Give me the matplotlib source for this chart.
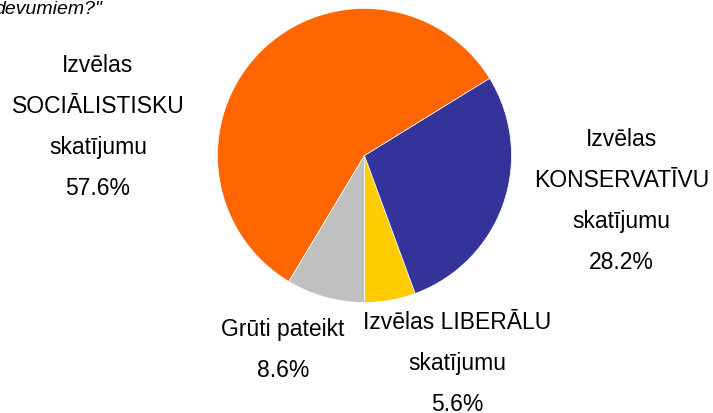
import matplotlib.pyplot as plt

# slices, counter-clockwise from the bottom
labels = ['Izvēlas LIBERĀLU\nskatījumu', 'Izvēlas\nKONSERVATĪVU\nskatījumu',
          'Izvēlas\nSOCIĀLISTISKU\nskatījumu', 'Grūti pateikt']
shares = [5.6, 28.2, 57.6, 8.6]
colors = ['#FFCC00', '#333399', '#FF6600', '#C0C0C0']
# label centres in pie-radius units
label_pos = [(0.633, -1.405), (1.749, -0.303), (-1.813, 0.204), (-0.554, -1.316)]

plt.rcParams['font.family'] = ['Liberation Sans', 'DejaVu Sans']

W, H = 713, 414
fig = plt.figure(figsize=(W / 100, H / 100), dpi=100)

cx, cy, r = 364.5, 156.5, 147
ax = fig.add_axes([(cx - r) / W, 1 - (cy + r) / H, 2 * r / W, 2 * r / H])
ax.pie(shares, colors=colors, startangle=270, counterclock=True,
       wedgeprops=dict(edgecolor='white', linewidth=0.5))
ax.set_xlim(-1, 1)
ax.set_ylim(-1, 1)
ax.set_aspect('equal')
ax.axis('off')

for lab, val, (x, y) in zip(labels, shares, label_pos):
    ax.text(x, y, f'{lab}\n{val:.1f}%', ha='center', va='center',
            fontsize=16.5, linespacing=2.0, color='black', clip_on=False)

fig.text(102 / W, 1 - 14 / H, 'devumiem?"', ha='right', va='baseline',
         fontsize=14, style='italic', color='black')

fig.savefig('out.png', dpi=100)
